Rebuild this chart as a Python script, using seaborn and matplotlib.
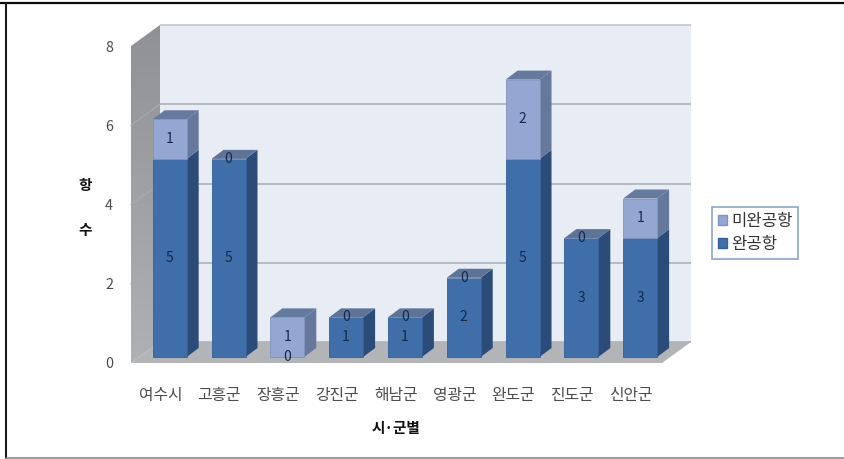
import matplotlib
matplotlib.use("Agg")
import matplotlib.pyplot as plt
import numpy as np
import pandas as pd
import seaborn as sns
from matplotlib.colors import LinearSegmentedColormap
from matplotlib.lines import Line2D
from matplotlib.patches import Patch, Polygon, Rectangle
from matplotlib.transforms import Affine2D, IdentityTransform

regions = ["여수시", "고흥군", "장흥군", "강진군", "해남군", "영광군", "완도군", "진도군", "신안군"]
completed = [5, 5, 0, 1, 1, 2, 5, 3, 3]
pending = [1, 0, 1, 0, 0, 0, 2, 0, 1]
y_ticks = [0, 2, 4, 6, 8]
name_completed = "완공항"
name_pending = "미완공항"

sns.set_theme(style="white")
plt.rcParams["font.family"] = ["Noto Sans CJK KR", "DejaVu Sans"]

W, H = 845, 459
fig = plt.figure(figsize=(W / 100, H / 100), dpi=100, facecolor="white")
ax = fig.add_axes([131 / W, (H - 363) / H, 531 / W, 317 / H])
ax.set_facecolor("none")

df = pd.DataFrame({"region": regions, "done": completed, "todo": pending})
DARK, LIGHT = "#3f6ea8", "#94a7d2"
sns.barplot(data=df, x="region", y="done", color=DARK, width=0.578, saturation=1,
            ax=ax, order=regions, zorder=5, linewidth=0.6, edgecolor="#35609a")
n_done = len(ax.patches)
sns.barplot(data=df, x="region", y="todo", bottom=df["done"].to_numpy(), color=LIGHT, width=0.578,
            saturation=1, ax=ax, order=regions, zorder=5, linewidth=0.6, edgecolor="#7f94c0")
ax.set_xlim(-0.5, 8.53)
ax.set_ylim(0, 8)

# depth of the scene and of the bars, in pixels
WALL_DX, WALL_DY = 29, 21
BAR_SHIFT_X, BAR_SHIFT_Y = 9.3, 6
BAR_DX, BAR_DY = 12, 9
wall_tf = ax.transData + Affine2D().translate(WALL_DX, WALL_DY)
bar_tf = ax.transData + Affine2D().translate(BAR_SHIFT_X, BAR_SHIFT_Y)
px = IdentityTransform()


def corner(x, y, dx=0, dy=0):
    p = ax.transData.transform((x, y))
    return (p[0] + dx, p[1] + dy)


x0, x1 = ax.get_xlim()
# back wall
ax.add_patch(Rectangle((x0, 0), x1 - x0, 8, transform=wall_tf, facecolor="#e8edf5",
                       edgecolor="none", zorder=0.5, clip_on=False))
ax.hlines(y_ticks[:-1], x0, x1, transform=wall_tf, colors="#a9adb6", linewidth=1.1, zorder=0.7, clip_on=False)
ax.hlines(y_ticks[-1:], x0, x1, transform=wall_tf, colors="#c6cad1", linewidth=1.3, zorder=0.7, clip_on=False)
# floor
ax.add_patch(Polygon([corner(x0, 0), corner(x1, 0), corner(x1, 0, WALL_DX, WALL_DY), corner(x0, 0, WALL_DX, WALL_DY)],
                     closed=True, transform=px, facecolor="#b3b4b7", edgecolor="none", zorder=1, clip_on=False))
# side wall with its vertical shading
side = Polygon([corner(x0, 0), corner(x0, 8), corner(x0, 8, WALL_DX, WALL_DY), corner(x0, 0, WALL_DX, WALL_DY)],
               closed=True, transform=px, facecolor="none", edgecolor="none", zorder=1.1, clip_on=False)
ax.add_patch(side)
cmap = LinearSegmentedColormap.from_list("wall", ["#b0b1b4", "#8f9194"])
span = (x1 - x0) * WALL_DX / 531
im = ax.imshow(np.linspace(0, 1, 64).reshape(-1, 1), cmap=cmap, aspect="auto", origin="lower",
               extent=[x0, x0 + span, 0, 8 + WALL_DY / 39.6], zorder=1.1)
im.set_clip_path(side)
im.set_clip_box(fig.bbox)
ax.set_xlim(x0, x1)
ax.set_ylim(0, 8)
for t in y_ticks[1:-1]:
    ax.plot(*zip(corner(x0, t), corner(x0, t, WALL_DX, WALL_DY)), transform=px, color="#a8a9ac",
            linewidth=1, zorder=1.2, clip_on=False)

# bars: move the front faces to mid depth and add side and top faces
bars = [b for b in ax.patches if isinstance(b, Rectangle) and b.get_zorder() == 5]
done_bars, todo_bars = bars[:n_done], bars[n_done:]
for group, side_c in ((done_bars, "#2b4c78"), (todo_bars, "#66789c")):
    for b in group:
        b.set_transform(bar_tf)
        b.set_clip_on(False)
        h = b.get_height()
        if h == 0:
            continue
        xr, yb = b.get_x() + b.get_width(), b.get_y()
        sx, sy = BAR_SHIFT_X, BAR_SHIFT_Y
        ax.add_patch(Polygon([corner(xr, yb, sx, sy), corner(xr, yb + h, sx, sy),
                              corner(xr, yb + h, sx + BAR_DX, sy + BAR_DY), corner(xr, yb, sx + BAR_DX, sy + BAR_DY)],
                             closed=True, transform=px, facecolor=side_c, edgecolor="none", zorder=3, clip_on=False))
for d, t, bd in zip(completed, pending, done_bars):
    xl, xr, top = bd.get_x(), bd.get_x() + bd.get_width(), d + t
    sx, sy = BAR_SHIFT_X, BAR_SHIFT_Y
    ax.add_patch(Polygon([corner(xl, top, sx, sy), corner(xr, top, sx, sy),
                          corner(xr, top, sx + BAR_DX, sy + BAR_DY), corner(xl, top, sx + BAR_DX, sy + BAR_DY)],
                         closed=True, transform=px, facecolor="#667a9f" if t else "#5d7398",
                         edgecolor="none", zorder=3, clip_on=False))

# value labels
for i, (d, t) in enumerate(zip(completed, pending)):
    ax.text(i, d / 2, str(d), transform=bar_tf, ha="center", va="center", fontsize=10,
            color="#15294a", zorder=7, clip_on=False)
    ax.text(i, d + t / 2, str(t), transform=bar_tf, ha="center", va="center", fontsize=10,
            color="#15294a", zorder=7, clip_on=False)

# axes furniture
sns.despine(ax=ax, left=True, bottom=True, right=True, top=True)
ax.set_yticks(y_ticks)
ax.set_xticks(range(len(regions)))
ax.set_xticklabels(regions)
ax.tick_params(axis="x", length=0, labelsize=11.4, labelcolor="#4d4d4d", pad=17)
ax.tick_params(axis="y", length=0, labelsize=10.3, labelcolor="#4d4d4d", pad=13)
ax.set_xlabel("시·군별", fontsize=10.5, fontweight="bold", color="#111111")
ax.xaxis.set_label_coords((396 - 131) / 531, -(428 - 363) / 317, transform=ax.transAxes)
ax.xaxis.label.set_verticalalignment("center")
ax.set_ylabel("항\n수", fontsize=10.5, fontweight="bold", color="#111111", rotation=0,
              linespacing=3.2, ha="center", va="center")
ax.yaxis.set_label_coords((85 - 131) / 531, (363 - 207.5) / 317, transform=ax.transAxes)

# legend
handles = [Patch(facecolor=LIGHT, edgecolor="#7f94c0", label=name_pending),
           Patch(facecolor=DARK, edgecolor="#35609a", label=name_completed)]
leg = ax.legend(handles=handles, loc="upper left", bbox_to_anchor=(712 / W, 1 - 207 / H),
                bbox_transform=fig.transFigure, borderaxespad=0, fancybox=False, framealpha=1,
                edgecolor="#8ba5c8", fontsize=12, handlelength=0.55, handleheight=0.55,
                handletextpad=0.25, labelspacing=0.38, borderpad=0.35, labelcolor="#333333")
leg.get_frame().set_linewidth(1.2)
leg.set_zorder(10)

# edges of the scanned page: top and left in black, bottom in grey, no right edge
fig.add_artist(Line2D([0, 1], [(H - 3) / H] * 2, transform=fig.transFigure, color="#0a0a0a", linewidth=1.6))
fig.add_artist(Line2D([6.5 / W] * 2, [0, (H - 3) / H], transform=fig.transFigure, color="#1a1a1a", linewidth=1.5))
fig.add_artist(Line2D([6.5 / W, 1], [0.8 / H] * 2, transform=fig.transFigure, color="#8a8a8a", linewidth=1.2))

fig.savefig("out.png", dpi=100)
